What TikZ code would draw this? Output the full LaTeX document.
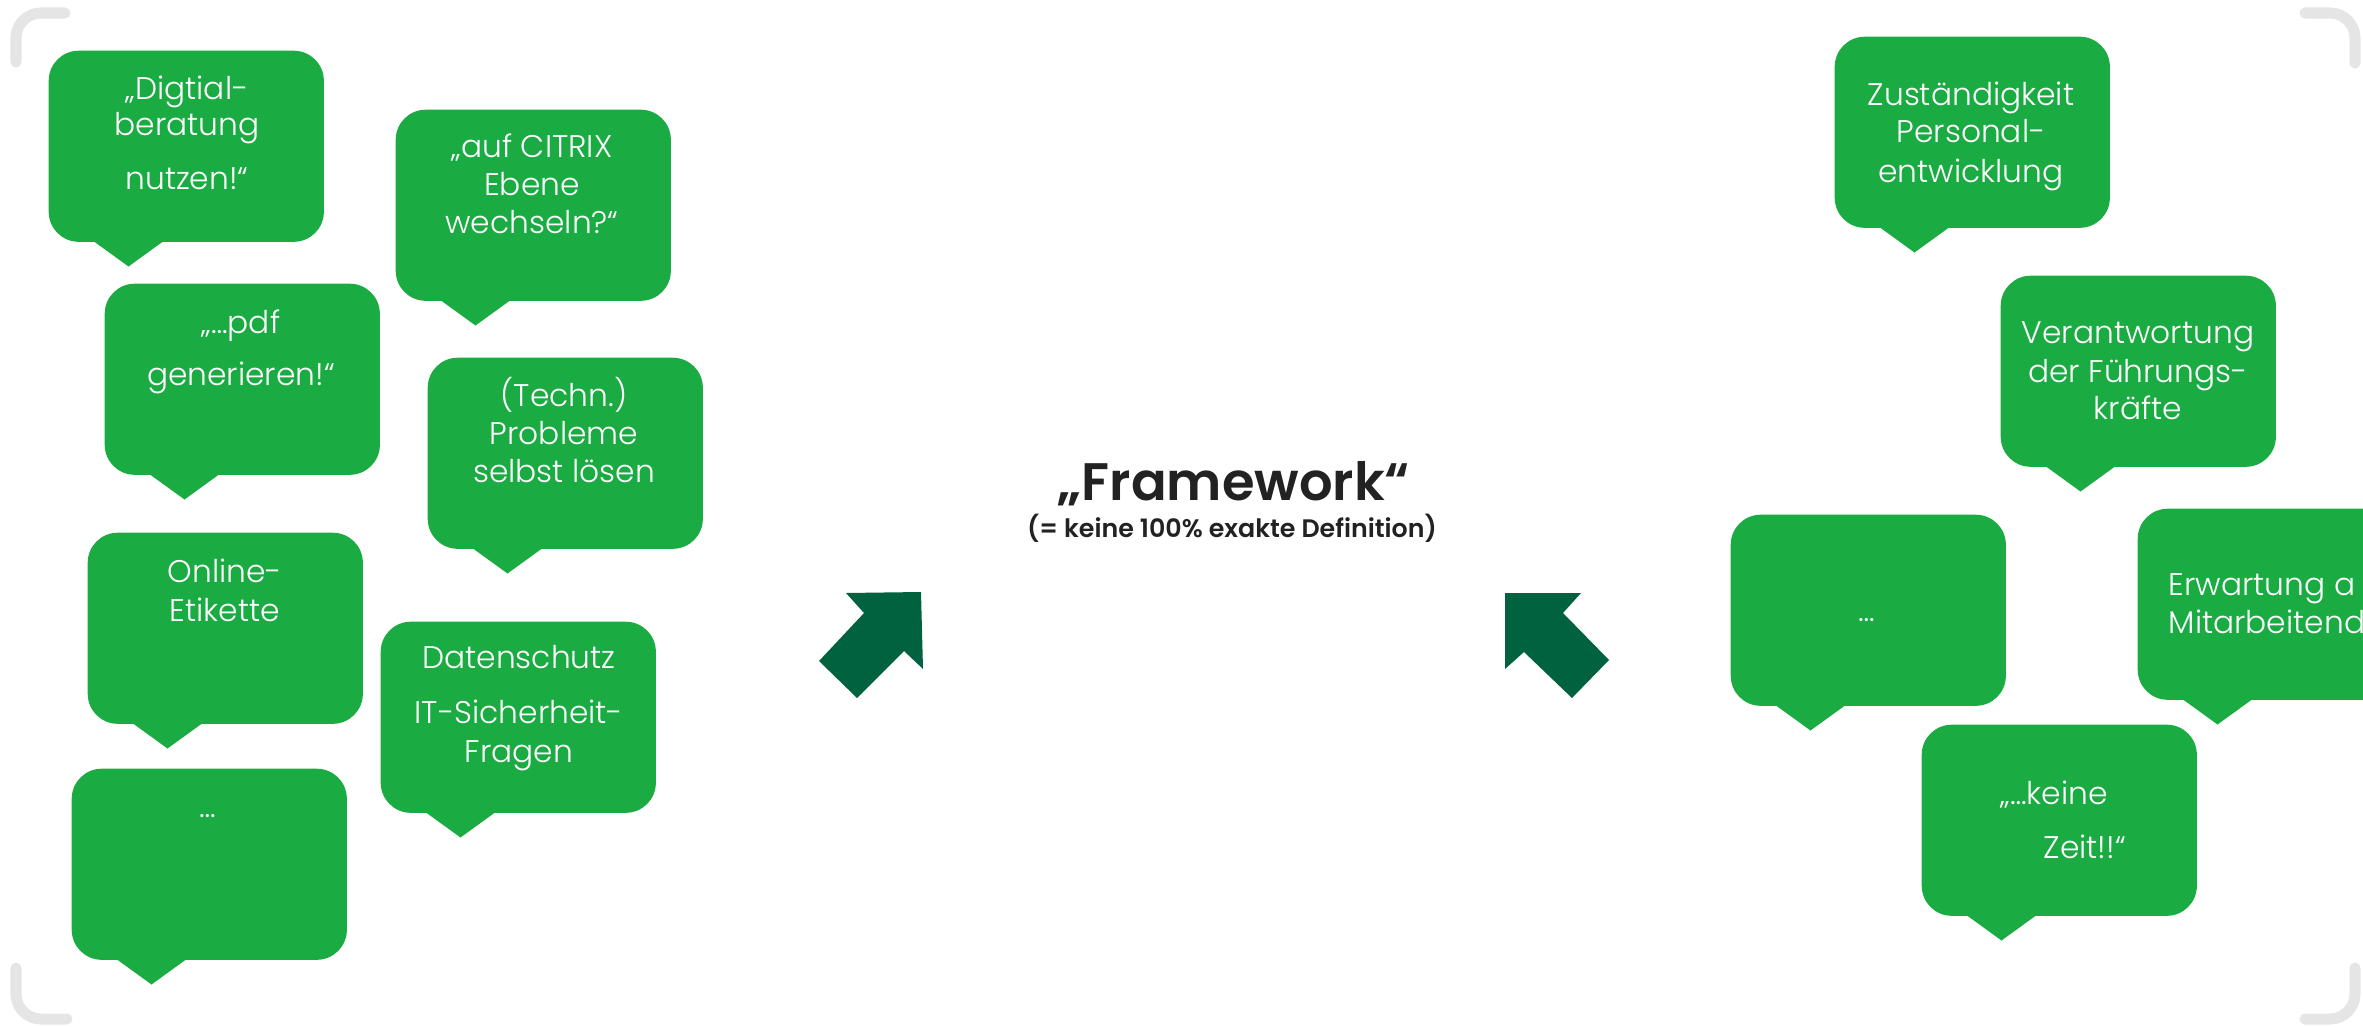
\documentclass[tikz,border=0pt]{standalone}
\usepackage{fontspec}
\setmainfont{Poppins}[UprightFont=* Light, BoldFont=* SemiBold]
\usetikzlibrary{calc}
\definecolor{bgreen}{HTML}{1BAB43}
\definecolor{dgreen}{HTML}{00623F}
\definecolor{bracketgray}{HTML}{E5E5E5}
\definecolor{titlegray}{HTML}{222222}
\newcommand\speechbubble[3]{%
  \node[bubble] (#1) at (#2,#3) {};
  \fill[tail] ($(#1.south west)+(46,-1)$) -- ($(#1.south west)+(80.5,24)$) -- ($(#1.south west)+(115,-1)$) -- cycle;}
\begin{document}
\begin{tikzpicture}[x=0.01cm,y=-0.01cm,
  bubble/.style={rectangle, fill=bgreen, rounded corners=0.3cm, minimum width=2.75cm, minimum height=1.91cm, inner sep=0pt, anchor=north west},
  tail/.style={fill=bgreen},
  txt/.style={text=white, anchor=base, inner sep=0pt, font=\fontsize{8.9}{10.7}\selectfont},
  txtl/.style={txt, anchor=base west},
  bracket/.style={draw=bracketgray, line width=0.11cm, line cap=round, rounded corners=0.25cm},
  arrowshape/.style={fill=dgreen}]
\useasboundingbox (0,0) rectangle (2363,1027);
\clip (0,0) rectangle (2363,1027);
% corner brackets
\draw[bracket] (16,62) -- (16,13) -- (65,13);
\draw[bracket] (2305,13) -- (2355,13) -- (2355,63);
\draw[bracket] (16,968) -- (16,1019) -- (67,1019);
\draw[bracket] (2305,1019) -- (2355,1019) -- (2355,968);
% bubbles left
\speechbubble{b1}{48}{50}
\speechbubble{b2}{395}{109}
\speechbubble{b3}{104}{283}
\speechbubble{b4}{427}{357}
\speechbubble{b5}{87}{532}
\speechbubble{b6}{380}{621}
\speechbubble{b7}{71}{768}
% bubbles right
\speechbubble{b8}{1834}{36}
\speechbubble{b9}{2000}{275}
\speechbubble{b10}{1730}{514}
\speechbubble{b11}{2137}{508}
\speechbubble{b12}{1921}{724}
% texts left
\node[txt] (t1a) at (187,99) {„Digtial-};
\node[txt] (t1b) at (187,135) {beratung};
\node[txt] (t1c) at (187,189) {nutzen!“};
\node[txt] (t2a) at (532,157) {„auf CITRIX};
\node[txt] (t2b) at (532,195) {Ebene};
\node[txt] (t2c) at (532,233) {wechseln?“};
\node[txt] (t3a) at (241,333) {„…pdf};
\node[txt] (t3b) at (241,385) {generieren!“};
\node[txt] (t4a) at (564,406) {(Techn.)};
\node[txt] (t4b) at (564,444) {Probleme};
\node[txt] (t4c) at (564,482) {selbst lösen};
\node[txt] (t5a) at (225,582) {Online-};
\node[txt] (t5b) at (225,621) {Etikette};
\node[txt] (t6a) at (519,668) {Datenschutz};
\node[txt] (t6b) at (519,723) {IT-Sicherheit-};
\node[txt] (t6c) at (519,762) {Fragen};
\node[txt] (t7) at (208,817) {…};
% texts right
\node[txt] (t8a) at (1971,105) {Zuständigkeit};
\node[txt] (t8b) at (1971,143) {Personal-};
\node[txt] (t8c) at (1971,182) {entwicklung};
\node[txt] (t9a) at (2138,343) {Verantwortung};
\node[txt] (t9b) at (2138,382) {der Führungs-};
\node[txt] (t9c) at (2138,419) {kräfte};
\node[txt] (t10) at (1867,621) {…};
\node[txtl] (t11a) at (2168,595) {Erwartung a};
\node[txtl] (t11b) at (2168,633) {Mitarbeitend};
\node[txtl] (t12a) at (2000,804) {„…keine};
\node[txtl] (t12b) at (2043,858) {Zeit!!“};
% centre
\node[anchor=base, text=titlegray, inner sep=0pt, font=\fontsize{15}{18}\selectfont\bfseries] (title) at (1234,500) {„Framework“};
\node[anchor=base, text=titlegray, inner sep=0pt, font=\fontsize{7.2}{8.6}\selectfont\bfseries] (sub) at (1232,537) {(= keine 100\% exakte Definition)};
% arrows
\fill[arrowshape] (846,593) -- (921,592) -- (923,669) -- (904,651) -- (857,698) -- (819,661) -- (864,613) -- cycle;
\fill[arrowshape] (1505,593) -- (1581,593) -- (1563,613) -- (1609,660) -- (1572,698) -- (1524,652) -- (1505,669) -- cycle;
\end{tikzpicture}
\end{document}
